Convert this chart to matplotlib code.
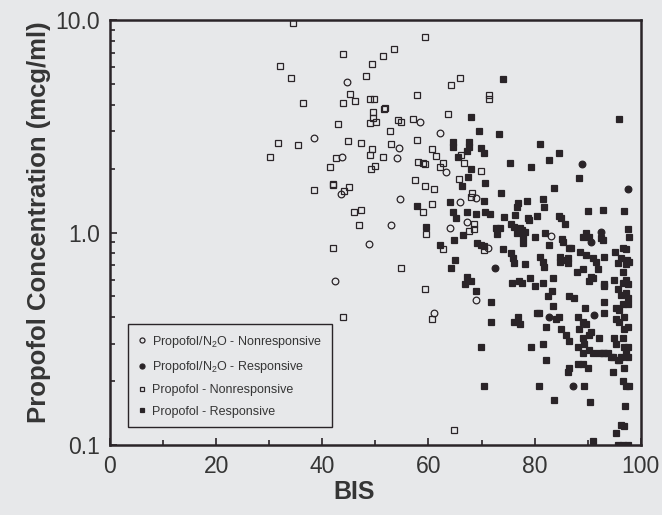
import matplotlib
matplotlib.use("Agg")
import matplotlib.pyplot as plt
from matplotlib.ticker import NullFormatter, LogLocator

# Propofol/N2O - Nonresponsive (open circles)
n2o_nonresp_bis = [44.7, 38.5, 43.7, 43.6, 58.5, 62.2, 54.4, 54.0, 63.4, 54.6, 66.0, 69.0,
                   52.9, 67.3, 64.1, 83.0, 71.2, 48.8, 42.4, 61.1, 69.0]
n2o_nonresp_conc = [5.11, 2.79, 2.27, 1.52, 3.31, 2.94, 2.50, 2.24, 1.93, 1.44, 1.39, 1.46,
                    1.08, 1.12, 1.05, 0.96, 0.85, 0.88, 0.59, 0.42, 0.48]

# Propofol/N2O - Responsive (filled circles)
n2o_resp_bis = [89.0, 97.6, 92.5, 90.7, 72.5, 91.2, 82.8, 87.3]
n2o_resp_conc = [2.10, 1.60, 1.01, 0.90, 0.68, 0.41, 0.40, 0.19]

# Propofol - Nonresponsive (open squares)
prop_nonresp_bis = [34.4, 43.9, 32.1, 34.2, 49.3, 48.2, 45.2, 43.9, 46.2, 36.4, 49.0, 49.7,
                    49.5, 49.5, 49.0, 43.0, 31.6, 35.5, 30.1, 44.9, 47.3, 49.3, 49.0, 42.6,
                    41.5, 49.2, 49.9, 42.1, 42.0, 45.0, 44.1, 38.5, 46.0, 47.3, 46.9, 59.3,
                    53.5, 51.4, 66.0, 64.3, 57.8, 71.4, 71.4, 50.1, 51.6, 51.9, 54.2, 54.8,
                    57.0, 63.6, 52.7, 51.4, 52.9, 57.8, 60.6, 61.5, 58.1, 58.9, 59.4, 62.2,
                    62.8, 66.2, 66.7, 69.9, 65.8, 57.4, 59.4, 61.1, 60.7, 58.9, 59.6, 68.2,
                    68.0, 68.6, 67.7, 68.6, 62.8, 70.5, 54.8, 59.4, 60.6, 64.9, 42.1, 43.9]
prop_nonresp_conc = [9.68, 6.92, 6.08, 5.34, 6.21, 5.45, 4.49, 4.06, 4.16, 4.06, 4.25, 4.25,
                     3.69, 3.46, 3.28, 3.24, 2.64, 2.58, 2.27, 2.70, 2.64, 2.47, 2.32, 2.24,
                     2.03, 1.99, 2.05, 1.67, 1.69, 1.64, 1.57, 1.58, 1.25, 1.28, 1.09, 8.32,
                     7.30, 6.77, 5.34, 4.94, 4.44, 4.44, 4.25, 3.31, 3.81, 3.86, 3.38, 3.31,
                     3.42, 3.61, 3.01, 2.27, 2.61, 2.72, 2.47, 2.29, 2.15, 2.12, 2.10, 2.03,
                     2.12, 2.32, 2.12, 1.95, 1.79, 1.77, 1.66, 1.60, 1.36, 1.25, 0.98, 1.54,
                     1.47, 1.10, 1.02, 1.04, 0.84, 0.83, 0.68, 0.54, 0.39, 0.117, 0.85, 0.40]

# Propofol - Responsive (filled squares)
prop_resp_bis = [74.0, 68.0, 69.5, 73.3, 64.7, 64.7, 65.6, 67.7, 67.7, 67.3, 69.9, 70.5,
                 68.0, 67.5, 66.4, 70.7, 75.3, 79.4, 81.1, 82.8, 84.5, 88.4, 95.9, 83.7,
                 57.8, 59.6, 64.1, 70.5, 73.6, 76.8, 76.6, 78.5, 81.5, 81.7, 80.4, 84.5,
                 85.8, 90.1, 92.9, 96.8, 97.6, 89.7, 64.7, 65.2, 67.3, 69.0, 70.7, 71.6,
                 74.2, 75.5, 76.1, 77.2, 72.7, 73.5, 72.9, 78.9, 66.5, 64.9, 81.9, 85.2,
                 89.2, 90.3, 76.3, 76.6, 77.6, 77.9, 77.8, 80.0, 78.7, 62.2, 69.2, 69.9,
                 70.5, 74.0, 75.5, 75.9, 76.1, 78.1, 82.8, 81.1, 81.5, 81.7, 84.7, 84.7,
                 86.2, 86.2, 85.4, 86.9, 88.6, 89.7, 91.0, 91.6, 93.1, 92.9, 92.5, 95.1,
                 95.7, 96.3, 97.4, 97.8, 96.6, 97.2, 97.8, 86.0, 64.3, 65.0, 67.3, 68.0,
                 66.9, 69.0, 71.8, 71.8, 69.9, 70.5, 75.7, 77.0, 77.6, 79.1, 80.0, 81.5,
                 83.4, 83.2, 82.6, 83.4, 80.4, 80.9, 76.1, 76.8, 77.2, 84.1, 84.5, 82.1,
                 79.3, 81.5, 82.1, 80.9, 83.6, 86.5, 87.5, 85.0, 86.0, 86.5, 88.2, 89.2,
                 89.7, 88.4, 89.2, 89.3, 88.2, 89.2, 90.3, 91.0, 88.2, 89.2, 90.1, 86.5,
                 86.2, 89.3, 90.5, 91.0, 89.5, 90.3, 91.0, 87.9, 89.2, 92.0, 93.1, 95.0,
                 93.1, 93.1, 92.1, 93.1, 94.8, 95.7, 95.0, 95.3, 96.6, 96.8, 97.2, 95.7,
                 96.3, 97.2, 97.6, 96.6, 95.3, 95.9, 97.6, 95.3, 95.9, 96.8, 97.6, 96.8,
                 97.6, 96.3, 97.6, 95.9, 96.6, 97.2, 97.6, 96.6, 97.2, 93.1, 90.7, 90.3,
                 90.7, 92.1, 92.9, 93.8, 94.4, 96.8, 96.6, 97.2, 97.8, 94.8, 97.0, 96.3,
                 96.8, 95.3, 95.7, 96.6, 97.6, 86.5, 78.1, 85.0]
prop_resp_conc = [5.27, 3.50, 3.01, 2.91, 2.67, 2.53, 2.27, 2.67, 2.53, 2.42, 2.50, 2.37,
                  1.99, 1.82, 1.66, 1.71, 2.12, 2.03, 2.61, 2.19, 2.37, 1.80, 3.42, 1.62,
                  1.33, 1.06, 1.39, 1.41, 1.54, 1.37, 1.32, 1.41, 1.44, 1.32, 1.19, 1.19,
                  1.10, 1.26, 1.28, 1.26, 1.04, 1.00, 1.25, 1.17, 1.25, 1.22, 1.25, 1.22,
                  1.18, 1.10, 1.06, 1.05, 1.05, 1.05, 0.98, 1.14, 0.97, 0.92, 1.00, 0.93,
                  0.95, 0.95, 1.21, 1.00, 1.03, 0.95, 0.89, 0.95, 1.17, 0.87, 0.89, 0.87,
                  0.86, 0.84, 0.80, 0.76, 0.72, 0.71, 0.87, 0.77, 0.73, 0.69, 0.77, 0.73,
                  0.76, 0.72, 0.90, 0.85, 0.81, 0.78, 0.76, 0.73, 0.77, 0.92, 0.94, 0.81,
                  0.72, 0.76, 0.74, 0.73, 0.85, 0.84, 0.95, 0.74, 0.68, 0.74, 0.62, 0.59,
                  0.57, 0.53, 0.47, 0.38, 0.29, 0.19, 0.58, 0.59, 0.58, 0.61, 0.56, 0.58,
                  0.61, 0.53, 0.50, 0.45, 0.42, 0.42, 0.38, 0.40, 0.37, 0.39, 0.40, 0.36,
                  0.29, 0.30, 0.25, 0.19, 0.163, 0.50, 0.49, 0.35, 0.33, 0.31, 0.40, 0.38,
                  0.37, 0.35, 0.32, 0.30, 0.29, 0.27, 0.28, 0.27, 0.24, 0.24, 0.23, 0.23,
                  0.22, 0.19, 0.16, 0.104, 0.44, 0.59, 0.61, 0.65, 0.67, 0.67, 0.57, 0.60,
                  0.47, 0.42, 0.32, 0.27, 0.26, 0.25, 0.32, 0.30, 0.32, 0.29, 0.27, 0.54,
                  0.51, 0.52, 0.49, 0.46, 0.44, 0.43, 0.46, 0.39, 0.38, 0.40, 0.36, 0.35,
                  0.29, 0.26, 0.26, 0.25, 0.65, 0.60, 0.57, 0.58, 0.71, 0.56, 0.62, 0.33,
                  0.34, 0.27, 0.27, 0.27, 0.26, 0.23, 0.20, 0.19, 0.19, 0.22, 0.152, 0.124,
                  0.123, 0.114, 0.1, 0.1, 0.1, 0.85, 1.01, 1.17]

x_ticks = [0, 20, 40, 60, 80, 100]
y_ticks = [0.1, 1.0, 10.0]
y_tick_labels = ["0.1", "1.0", "10.0"]

bg = "#e7e8ea"
ink = "#2a2428"
text_col = "#353535"

plt.rcParams["font.family"] = ["Liberation Sans", "DejaVu Sans"]
plt.rcParams["mathtext.default"] = "regular"

fig = plt.figure(figsize=(6.62, 5.15), dpi=100, facecolor=bg)
ax = fig.add_axes([0.166, 0.136, 0.802, 0.825], facecolor=bg)

ms = 4.8
ax.plot(n2o_nonresp_bis, n2o_nonresp_conc, "o", ms=ms, mfc="none", mec=ink, mew=0.9,
        label="Propofol/N$_2$O - Nonresponsive")
ax.plot(n2o_resp_bis, n2o_resp_conc, "o", ms=ms, mfc=ink, mec=ink, mew=0.9,
        label="Propofol/N$_2$O - Responsive")
ax.plot(prop_nonresp_bis, prop_nonresp_conc, "s", ms=ms, mfc="none", mec=ink, mew=0.9,
        label="Propofol - Nonresponsive")
ax.plot(prop_resp_bis, prop_resp_conc, "s", ms=ms, mfc=ink, mec=ink, mew=0.9,
        label="Propofol - Responsive")

ax.set_yscale("log")
ax.set_xlim(0, 100)
ax.set_ylim(0.1, 10)
ax.set_xticks(x_ticks)
ax.set_xticks(range(10, 100, 20), minor=True)
ax.set_yticks(y_ticks)
ax.set_yticklabels(y_tick_labels)
ax.yaxis.set_minor_locator(LogLocator(base=10, subs=range(2, 10)))
ax.yaxis.set_minor_formatter(NullFormatter())

ax.tick_params(which="both", direction="in", colors=ink, labelcolor=text_col,
               labelsize=16.5, width=1.2)
ax.tick_params(which="major", length=5)
ax.tick_params(which="minor", length=3.5)
ax.tick_params(axis="y", pad=7)
ax.tick_params(axis="x", pad=7)

for s in ax.spines.values():
    s.set_linewidth(1.8)
    s.set_color(ink)

ax.set_xlabel("BIS", fontsize=18, fontweight="bold", color=text_col)
ax.xaxis.set_label_coords(0.46, -0.083)
ax.set_ylabel("Propofol Concentration (mcg/ml)", fontsize=18.5, fontweight="bold",
              color=text_col)
ax.yaxis.set_label_coords(-0.11, 0.525)

leg = ax.legend(loc="lower left", bbox_to_anchor=(0.034, 0.042), borderaxespad=0,
                fontsize=9, frameon=True, fancybox=False, framealpha=1,
                facecolor=bg, edgecolor=ink, handlelength=0.7, handletextpad=0.5,
                borderpad=0.75, labelspacing=0.75, markerscale=0.75)
leg.get_frame().set_linewidth(1.0)
for t in leg.get_texts():
    t.set_color(text_col)

fig.savefig("out.png", dpi=100, facecolor=bg)
